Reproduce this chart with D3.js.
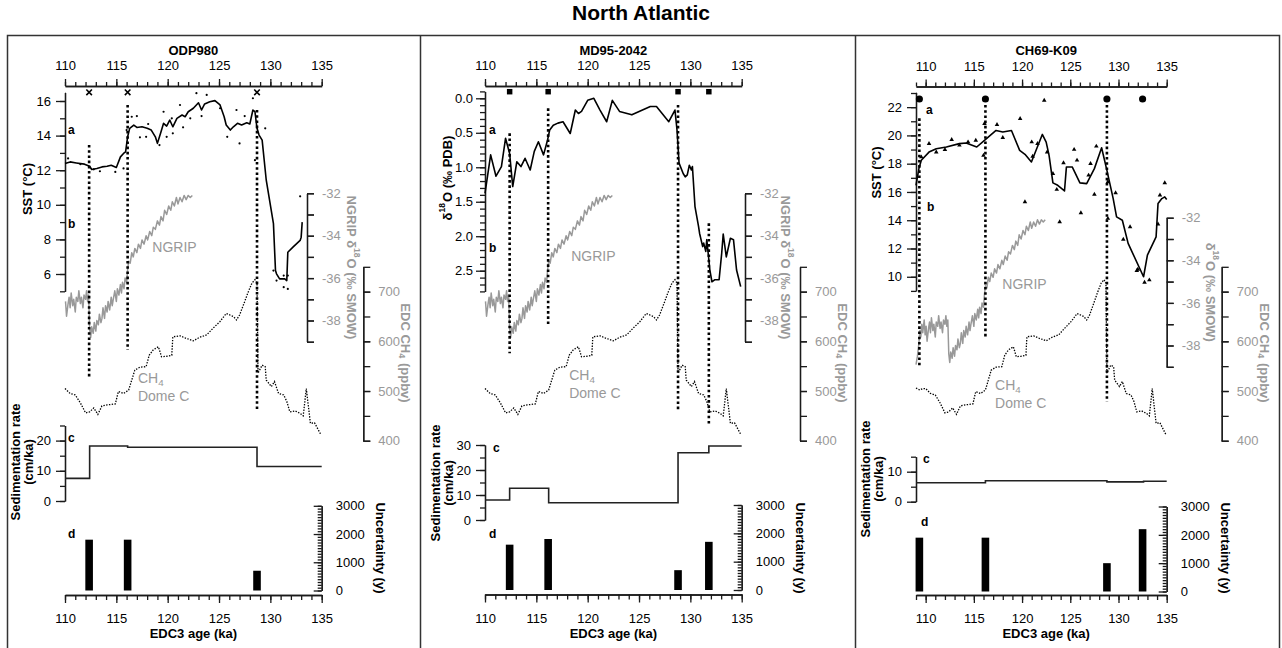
<!DOCTYPE html>
<html><head><meta charset="utf-8">
<script src="https://cdn.jsdelivr.net/npm/d3@7"></script>
<style>body{margin:0;background:#fff}</style>
</head><body>
<svg id="c" width="1282" height="648"></svg>
<script>
// ---------------- DATA ----------------
const ageMajorTicks = [110, 115, 120, 125, 130, 135];

// NGRIP delta18O (permil SMOW) vs EDC3 age (ka)
const ngrip = [
[109.0,-38.9],[109.15,-38.5],[109.3,-37.9],[109.4,-37.3],[109.5,-37.6],[109.6,-37.0],[109.7,-37.4],[109.85,-36.8],[109.95,-37.5],
[110.05,-37.1],[110.15,-37.8],[110.3,-37.2],[110.4,-36.9],[110.5,-37.4],[110.6,-36.7],[110.75,-37.3],[110.85,-37.0],
[111.0,-37.6],[111.1,-36.9],[111.25,-37.1],[111.35,-36.6],[111.5,-37.2],[111.6,-36.9],[111.75,-37.4],[111.85,-36.8],
[112.0,-37.0],[112.1,-36.6],[112.2,-37.1],[112.3,-36.8],
[112.4,-38.4],[112.5,-38.8],[112.6,-38.3],[112.75,-38.6],[112.85,-38.1],[113.0,-38.5],[113.1,-38.0],[113.25,-38.2],
[113.35,-37.7],[113.5,-38.1],[113.6,-37.9],[113.7,-37.4],[113.85,-37.9],[113.95,-37.3],[114.1,-37.6],[114.2,-37.1],
[114.35,-37.5],[114.5,-36.9],[114.6,-37.3],[114.7,-37.0],[114.85,-36.6],[115.0,-37.1],[115.1,-36.5],[115.25,-36.8],
[115.4,-36.3],[115.5,-36.7],[115.6,-36.2],[115.75,-36.5],[115.85,-36.0],[116.0,-36.2],
[116.1,-35.6],[116.2,-35.2],[116.35,-35.3],[116.5,-34.8],[116.65,-35.0],[116.8,-34.6],[117.0,-34.8],[117.15,-34.4],
[117.35,-34.6],[117.5,-34.2],[117.7,-34.4],[117.9,-34.0],[118.05,-34.2],[118.25,-33.8],[118.45,-34.0],[118.6,-33.6],
[118.8,-33.7],[119.0,-33.3],[119.2,-33.5],[119.35,-33.1],[119.55,-33.3],[119.7,-32.8],[119.9,-33.0],[120.1,-32.6],
[120.3,-32.8],[120.45,-32.4],[120.65,-32.6],[120.85,-32.2],[121.0,-32.5],[121.2,-32.2],[121.4,-32.4],[121.6,-32.1],
[121.8,-32.3],[122.0,-32.1],[122.2,-32.2],[122.4,-32.1]
];

// EDC CH4 (ppbv) vs EDC3 age (ka)
const ch4 = [
[109.0,506],[109.4,502],[109.7,505],[110.0,505],[110.5,495],[111.0,492],[111.5,476],[112.0,456],[112.4,458],
[112.8,466],[113.2,453],[113.6,470],[114.1,472],[114.9,474],[115.2,499],[115.7,495],[116.2,502],[116.5,522],
[116.8,542],[117.3,548],[117.9,549],[118.2,572],[118.6,583],[119.1,589],[119.4,569],[119.9,570],[120.4,572],
[120.5,609],[121.2,611],[121.8,606],[122.5,601],[123.1,608],[123.8,613],[124.4,626],[125.1,640],[125.7,656],
[126.4,650],[126.7,643],[127.0,653],[127.5,680],[127.8,697],[128.2,717],[128.5,724],[128.7,717],[128.8,536],
[129.2,552],[129.5,549],[129.6,522],[130.1,509],[130.4,519],[130.8,495],[131.3,492],[131.6,479],[131.9,458],
[132.4,460],[132.9,455],[133.2,450],[133.5,505],[133.9,435],[134.3,436],[134.9,413]
];

// ODP980 SST (deg C)
const odpSst = [
[110.0,12.39],[110.5,12.48],[111.1,12.42],[111.9,12.35],[112.4,12.23],[112.6,12.04],[113.1,12.10],[113.6,12.19],
[114.1,12.23],[114.5,12.29],[115.0,12.16],[115.4,12.77],[115.7,12.97],[115.9,13.06],[116.1,13.93],[116.3,14.42],
[116.7,14.61],[117.0,14.47],[117.5,14.51],[118.0,14.42],[118.4,14.32],[118.8,13.93],[119.0,13.55],[119.3,14.12],
[119.6,14.71],[119.9,14.55],[120.2,14.90],[120.5,14.51],[120.9,15.00],[121.4,15.19],[121.7,15.09],[122.0,15.38],
[122.5,15.58],[123.0,15.90],[123.3,15.48],[123.6,15.83],[124.1,15.96],[124.6,16.02],[125.1,15.77],[125.5,15.09],
[125.7,14.61],[126.1,14.32],[126.4,14.51],[126.8,14.71],[127.2,14.61],[127.7,14.74],[128.0,14.67],[128.3,15.48],
[128.5,15.38],[128.7,14.42],[128.9,14.03],[129.2,13.74],[129.6,11.42],[130.3,8.91],[130.5,6.20],[130.6,6.01],
[130.9,5.72],[131.4,5.72],[131.6,5.62],[131.7,7.26],[132.2,7.55],[132.9,7.94],[133.0,8.13],[133.1,9.00]
];
const odpSstPoints = [
[110.3,12.68],[111.5,12.35],[112.8,12.05],[113.4,11.94],[114.9,11.90],[115.7,12.10],[116.0,14.32],[116.5,15.09],
[117.0,15.13],[117.3,13.90],[117.9,13.93],[118.1,14.67],[119.2,13.45],[119.6,15.38],[119.9,13.93],[120.4,15.00],
[120.5,14.13],[121.2,15.77],[121.5,14.48],[122.2,15.00],[122.8,16.45],[123.3,15.13],[123.8,16.35],[125.1,15.58],
[125.8,13.93],[126.7,15.48],[127.0,13.55],[127.5,15.13],[128.3,16.16],[128.5,12.58],[129.5,14.42],[130.3,6.20],
[130.6,5.62],[131.3,5.24],[131.3,5.91],[131.7,5.14],[131.7,5.91],[132.9,10.49]
];

// MD95-2042 benthic delta18O (permil PDB)
const mdD18O = [
[110.0,1.38],[110.55,0.82],[111.07,1.13],[111.6,0.99],[112.0,0.58],[112.4,0.80],[112.7,1.28],[113.1,0.92],
[113.5,0.99],[113.9,0.87],[114.4,1.04],[114.8,0.77],[115.2,0.63],[115.7,0.82],[116.1,0.60],[116.3,0.46],
[116.65,0.39],[117.1,0.36],[117.6,0.34],[118.3,0.51],[118.8,0.17],[119.1,0.22],[119.4,0.19],[120.0,0.03],
[120.6,0.00],[121.2,0.17],[121.85,0.34],[122.4,0.03],[123.1,0.19],[124.3,0.24],[126.1,0.12],[126.7,0.12],
[127.9,0.34],[128.5,0.17],[128.7,0.46],[128.9,0.94],[129.3,1.09],[129.5,1.14],[129.7,1.11],[129.9,0.97],
[130.1,1.04],[130.2,0.99],[130.45,1.57],[130.8,1.86],[130.9,1.96],[131.2,2.15],[131.3,2.10],[131.5,2.22],
[131.6,2.05],[131.8,2.34],[131.9,2.49],[132.1,2.66],[132.4,2.63],[132.8,2.63],[133.05,2.25],[133.2,1.97],
[133.5,2.30],[133.9,2.03],[134.2,2.05],[134.5,2.49],[134.9,2.73]
];

// CH69-K09 SST (deg C)
const chSst = [
[109.0,16.47],[109.3,17.65],[109.55,18.24],[110.35,18.82],[111.1,19.06],[112.15,19.18],[113.5,19.42],[114.2,19.46],
[115.3,19.18],[116.1,19.65],[117.3,20.35],[118.0,20.24],[118.9,20.35],[119.75,18.94],[120.3,18.66],[120.97,18.12],
[122.1,20.07],[122.5,19.53],[122.8,18.59],[123.2,16.64],[123.7,16.47],[124.4,16.07],[124.6,17.77],[125.2,17.77],
[126.0,16.64],[126.7,16.59],[127.5,17.65],[128.25,19.13],[128.8,17.53],[129.45,15.53],[129.8,14.24],[130.4,14.00],
[131.0,12.36],[132.6,10.00],[133.0,11.53],[133.9,12.82],[134.1,15.18],[134.5,15.53],[134.8,15.65],[135.0,15.47]
];
const chSstPoints = [
[109.55,18.47],[110.35,19.42],[111.1,18.82],[112.0,18.99],[112.7,19.70],[113.5,19.30],[114.4,19.53],[115.2,19.65],
[116.0,18.59],[116.1,20.83],[117.4,20.76],[118.0,19.84],[119.8,21.18],[121.0,19.53],[121.1,18.52],[121.6,19.42],
[120.3,15.30],[122.3,22.47],[122.6,18.82],[123.2,17.30],[123.6,16.17],[123.9,13.88],[124.3,18.05],[125.4,19.00],
[125.7,18.24],[126.1,14.52],[126.9,17.18],[127.1,18.00],[127.5,15.82],[127.7,19.23],[128.9,16.71],[128.9,14.12],
[129.7,15.93],[130.5,12.64],[131.2,13.53],[132.0,10.52],[131.9,10.43],[132.7,9.60],[133.2,9.77],[134.1,13.72],
[134.3,15.77],[134.8,16.64]
];

// tie points (ka), sedimentation rates (cm/ka), age uncertainties (y)
const odpTies = [112.35, 116.1, 128.7];
const mdTies  = [112.4, 116.15, 128.8, 131.8];
const chTies  = [109.35, 116.2, 128.8, 132.5];
const odpUncertainty = [1800, 1800, 700];
const mdUncertainty  = [1600, 1800, 700, 1700];
const chUncertainty  = [1900, 1900, 1000, 2200];
const odpSedRate = [[110,7.5],[112.4,18.2],[116.1,17.8],[128.7,11.4],[135,11.4]];
const mdSedRate  = [[110,8.0],[112.4,12.7],[116.2,6.9],[128.8,26.9],[131.8,29.6],[135,29.6]];
const chSedRate  = [[109,6.3],[116.2,7.0],[128.8,6.6],[132.6,6.8],[135,6.8]];

// ---------------- DRAWING ----------------
const FONT = '"Liberation Sans", Arial, Helvetica, sans-serif';
const INK = "#1a1a1a", GRAY = "#999999";
const svg = d3.select("#c").attr("font-family", FONT);

function axis(orient, scale, pos, majors, minors, majorLen, minorLen, pad, fmt, color) {
  const tr = (orient === "axisTop" || orient === "axisBottom") ? `translate(0,${pos})` : `translate(${pos},0)`;
  const gMin = svg.append("g").attr("transform", tr)
    .call(d3[orient](scale).tickValues(minors).tickSize(minorLen).tickSizeOuter(0).tickFormat(() => ""));
  const gMaj = svg.append("g").attr("transform", tr)
    .call(d3[orient](scale).tickValues(majors).tickSize(majorLen).tickSizeOuter(0).tickPadding(pad).tickFormat(fmt));
  [gMin, gMaj].forEach(g => {
    g.select(".domain").attr("stroke", INK).attr("stroke-width", 1.3);
    g.selectAll(".tick line").attr("stroke", INK).attr("stroke-width", 1.3);
    g.selectAll("text").attr("font-size", 13).attr("font-family", FONT).attr("fill", color || "#000");
  });
}

function label(x, y, parts, o) {
  o = o || {};
  const t = svg.append("text")
    .attr("font-size", o.size || 13).attr("font-weight", o.bold ? "bold" : "normal")
    .attr("fill", o.color || "#000").attr("text-anchor", o.anchor || "start")
    .attr("dominant-baseline", o.baseline || "auto");
  if (o.rotate) t.attr("transform", `translate(${x},${y}) rotate(${o.rotate})`);
  else t.attr("x", x).attr("y", y);
  const fs = o.size || 13;
  parts.forEach(p => {
    if (typeof p === "string") t.append("tspan").text(p);
    else if (p.sup) {
      t.append("tspan").attr("font-size", fs * 0.65).attr("dy", -fs * 0.4).text(p.sup);
      t.append("tspan").attr("dy", fs * 0.4).text("\u200A");
    } else if (p.sub) {
      t.append("tspan").attr("font-size", fs * 0.7).attr("dy", fs * 0.3).text(p.sub);
      t.append("tspan").attr("dy", -fs * 0.3).text("\u200A");
    }
  });
  return t;
}

const fmtInt = d => String(d);

function drawPanel(cfg) {
  const x = cfg.x;
  const [a0, a1] = x.domain();
  const inDom = d => d[0] >= a0 - 1e-9 && d[0] <= a1 + 1e-9;
  const allAges = d3.range(Math.ceil(a0), a1 + 0.5, 1);

  // top & bottom age axes
  axis("axisTop", x, cfg.topY, ageMajorTicks, allAges, 7, 4, 9, fmtInt);
  axis("axisBottom", x, cfg.botY, ageMajorTicks, allAges, 8, 5, 11, fmtInt);
  label(x(122.5), 55, [cfg.title], { bold: true, anchor: "middle" });
  label(x(122.5), 638, ["EDC3 age (ka)"], { bold: true, anchor: "middle" });

  // left record axis
  const y = cfg.y;
  axis("axisLeft", y, cfg.leftX, cfg.yMajors, cfg.yMinors, 9, 5, cfg.yPad, cfg.yFmt);
  label(cfg.yLabelX, cfg.yLabelY, cfg.yLabel, { bold: true, anchor: "middle", rotate: -90, baseline: "central" });

  // NGRIP axis
  const yN = cfg.yN;
  axis("axisRight", yN, cfg.ngripAxisX, d3.range(-39, -31), d3.range(-39, -31), 7, 7, 8,
       d => (d % 2 === 0 ? String(d) : ""), GRAY);
  label(cfg.ngripTitleX, (yN.range()[0] + yN.range()[1]) / 2, cfg.ngripTitle,
        { bold: true, anchor: "middle", rotate: 90, baseline: "central", color: GRAY });

  // EDC CH4 axis
  const yC = d3.scaleLinear([400, 750], [440.7, 266.8]);
  axis("axisRight", yC, cfg.edcAxisX, [400, 500, 600, 700], d3.range(400, 751, 50), 7, 7, 8, fmtInt, GRAY);
  label(cfg.edcAxisX + 43, 353, ["EDC CH", { sub: "4" }, " (ppbv)"],
        { bold: true, anchor: "middle", rotate: 90, baseline: "central", color: GRAY });

  // sedimentation rate axis
  const yS = cfg.yS;
  axis("axisLeft", yS, cfg.leftX, cfg.sMajors, cfg.sMinors, 9, 5, 5, fmtInt);
  label(cfg.panelLeft + 15, cfg.sLabelY, ["Sedimentation rate"], { bold: true, anchor: "middle", rotate: -90, baseline: "central" });
  label(cfg.panelLeft + 28, cfg.sLabelY, ["(cm/ka)"], { bold: true, anchor: "middle", rotate: -90, baseline: "central" });

  // uncertainty axis
  const yU = cfg.yU;
  axis("axisRight", yU, x(135), [0, 1000, 2000, 3000], d3.range(0, 3001, 100), -8, -4, 14, fmtInt);
  label(x(135) + 59, 548, ["Uncertainty (y)"], { bold: true, anchor: "middle", rotate: 90, baseline: "central" });

  // NGRIP curve
  svg.append("path").datum(ngrip.filter(inDom))
    .attr("fill", "none").attr("stroke", GRAY).attr("stroke-width", 1.5).attr("stroke-linejoin", "round")
    .attr("d", d3.line().x(d => x(d[0])).y(d => yN(d[1])));
  // CH4 curve
  svg.append("path").datum(ch4.filter(inDom))
    .attr("fill", "none").attr("stroke", "#000").attr("stroke-width", 1.3).attr("stroke-dasharray", "1.4,1.4")
    .attr("d", d3.line().x(d => x(d[0])).y(d => yC(d[1])));

  // record curve + points
  svg.append("path").datum(cfg.rec)
    .attr("fill", "none").attr("stroke", "#000").attr("stroke-width", 1.6).attr("stroke-linejoin", "round")
    .attr("d", d3.line().x(d => x(d[0])).y(d => y(d[1])));
  if (cfg.pts) {
    if (cfg.ptShape === "tri") {
      svg.append("g").selectAll("path").data(cfg.pts).join("path")
        .attr("transform", d => `translate(${x(d[0])},${y(d[1])})`)
        .attr("d", d3.symbol(d3.symbolTriangle, 9)).attr("fill", "#000");
    } else {
      svg.append("g").selectAll("circle").data(cfg.pts).join("circle")
        .attr("cx", d => x(d[0])).attr("cy", d => y(d[1])).attr("r", 1.1).attr("fill", "#000");
    }
  }

  // tie lines (dotted verticals)
  cfg.ties.forEach((t, i) => {
    const ext = cfg.tieExt[i];
    if (!ext) return;
    svg.append("line").attr("x1", x(t)).attr("x2", x(t)).attr("y1", ext[0]).attr("y2", ext[1])
      .attr("stroke", "#000").attr("stroke-width", 2.6).attr("stroke-dasharray", "2.6,2.6");
  });
  // tie markers
  const mk = svg.append("g").selectAll("path").data(cfg.ties).join("path")
    .attr("transform", t => `translate(${x(t)},${cfg.markerY})`);
  if (cfg.marker === "x") mk.attr("d", d3.symbol(d3.symbolX, 22)).attr("fill", "none").attr("stroke", "#000").attr("stroke-width", 1.6);
  if (cfg.marker === "sq") mk.attr("d", d3.symbol(d3.symbolSquare, 30)).attr("fill", "#000");
  if (cfg.marker === "dot") mk.attr("d", d3.symbol(d3.symbolCircle, 40)).attr("fill", "#000");

  // sedimentation step
  svg.append("path").datum(cfg.sed)
    .attr("fill", "none").attr("stroke", "#222").attr("stroke-width", 1.6)
    .attr("d", d3.line().curve(d3.curveStepAfter).x(d => x(d[0])).y(d => yS(d[1])));

  // uncertainty bars
  svg.append("g").selectAll("rect").data(cfg.ties.map((t, i) => [t, cfg.unc[i]])).join("rect")
    .attr("x", d => x(d[0]) - 3.8).attr("width", 7.6)
    .attr("y", d => yU(d[1])).attr("height", d => yU(0) - yU(d[1])).attr("fill", "#000");

  // text labels
  label(x(cfg.ngripTextAge), cfg.ngripTextY, ["NGRIP"], { size: 14, color: GRAY, baseline: "central" });
  label(x(cfg.ch4TextAge), cfg.ch4TextY, ["CH", { sub: "4" }], { size: 14, color: GRAY, baseline: "central" });
  label(x(cfg.ch4TextAge), cfg.ch4TextY + 18, ["Dome C"], { size: 14, color: GRAY, baseline: "central" });
  cfg.letters.forEach(l => label(l[1], l[2], [l[0]], { bold: true, size: 12, baseline: "central" }));
}

// Panel 1: ODP980
drawPanel({
  title: "ODP980", panelLeft: 0,
  x: d3.scaleLinear([110, 135], [65, 321.7]),
  topY: 86, botY: 595, leftX: 65,
  y: d3.scaleLinear([5, 16.5], [291.3, 92.35]),
  yMajors: [6, 8, 10, 12, 14, 16], yMinors: d3.range(5, 17), yPad: 5, yFmt: fmtInt,
  yLabel: ["SST (°C)"], yLabelX: 27, yLabelY: 189,
  yN: d3.scaleLinear([-32, -39], [193.3, 341.7]), ngripAxisX: 307,
  ngripTitle: ["NGRIP δ", { sup: "18" }, "O (‰ SMOW)"], ngripTitleX: 352,
  edcAxisX: 363.3,
  yS: d3.scaleLinear([0, 25], [501, 425.5]), sMajors: [0, 10, 20], sMinors: d3.range(0, 26, 5), sLabelY: 462,
  yU: d3.scaleLinear([0, 3000], [590.5, 505.8]),
  rec: odpSst, pts: odpSstPoints, ptShape: "dot",
  ties: odpTies, unc: odpUncertainty, sed: odpSedRate,
  tieExt: [[145, 378], [105, 350], [110, 410]], marker: "x", markerY: 92.3,
  ngripTextAge: 118.5, ngripTextY: 247, ch4TextAge: 117.1, ch4TextY: 378,
  letters: [["a", 68, 130], ["b", 68, 224], ["c", 68, 438], ["d", 68, 534]]
});

// Panel 2: MD95-2042
drawPanel({
  title: "MD95-2042", panelLeft: 420,
  x: d3.scaleLinear([110, 135], [485, 741.7]),
  topY: 86, botY: 594.5, leftX: 485,
  y: d3.scaleLinear([-0.1, 2.8], [91.4, 291.4]),
  yMajors: [0, 0.5, 1, 1.5, 2, 2.5], yMinors: d3.range(-1, 29).map(d => d / 10), yPad: 3, yFmt: d3.format(".1f"),
  yLabel: ["δ", { sup: "18" }, "O (‰ PDB)"], yLabelX: 447, yLabelY: 178,
  yN: d3.scaleLinear([-32, -39], [193.3, 341.7]), ngripAxisX: 745,
  ngripTitle: ["NGRIP δ", { sup: "18" }, "O (‰ SMOW)"], ngripTitleX: 786,
  edcAxisX: 800,
  yS: d3.scaleLinear([0, 30], [520, 445]), sMajors: [0, 10, 20, 30], sMinors: d3.range(0, 31, 5), sLabelY: 483,
  yU: d3.scaleLinear([0, 3000], [590, 505]),
  rec: mdD18O, pts: null,
  ties: mdTies, unc: mdUncertainty, sed: mdSedRate,
  tieExt: [[133.3, 353.3], [108.3, 326.7], [105, 410], [223.3, 425]], marker: "sq", markerY: 91.7,
  ngripTextAge: 118.4, ngripTextY: 256, ch4TextAge: 118.2, ch4TextY: 375,
  letters: [["a", 489, 130], ["b", 489, 248], ["c", 493, 448], ["d", 489, 534]]
});

// Panel 3: CH69-K09
drawPanel({
  title: "CH69-K09", panelLeft: 850,
  x: d3.scaleLinear([109, 135], [916, 1166.7]),
  topY: 86.5, botY: 595, leftX: 916,
  y: d3.scaleLinear([9, 23.05], [290.9, 92.3]),
  yMajors: [10, 12, 14, 16, 18, 20, 22], yMinors: d3.range(9, 24), yPad: 5, yFmt: fmtInt,
  yLabel: ["SST (°C)"], yLabelX: 876, yLabelY: 172.5,
  yN: d3.scaleLinear([-32, -39], [217.7, 366.8]), ngripAxisX: 1166.7,
  ngripTitle: ["δ", { sup: "18" }, "O (‰ SMOW)"], ngripTitleX: 1211,
  edcAxisX: 1221.7,
  yS: d3.scaleLinear([0, 15], [501.7, 456.7]), sMajors: [0, 10], sMinors: [0, 5, 10, 15], sLabelY: 479,
  yU: d3.scaleLinear([0, 3000], [591.5, 506.5]),
  rec: chSst, pts: chSstPoints, ptShape: "tri",
  ties: chTies, unc: chUncertainty, sed: chSedRate,
  tieExt: [[118.3, 366.7], [105, 336.7], [105, 401.7], null], marker: "dot", markerY: 99,
  ngripTextAge: 117.95, ngripTextY: 284, ch4TextAge: 117.2, ch4TextY: 385,
  letters: [["a", 926, 110], ["b", 927, 207], ["c", 923, 459], ["d", 921, 522]]
});

// frame + title
svg.append("rect").attr("x", 7.5).attr("y", 35.5).attr("width", 1272).attr("height", 640)
  .attr("fill", "none").attr("stroke", "#333").attr("stroke-width", 1.5);
[420.5, 855.5].forEach(xx => svg.append("line").attr("x1", xx).attr("x2", xx).attr("y1", 35.5).attr("y2", 648)
  .attr("stroke", "#333").attr("stroke-width", 1.5));
label(641, 20, ["North Atlantic"], { bold: true, size: 21, anchor: "middle" });
</script>
</body></html>
